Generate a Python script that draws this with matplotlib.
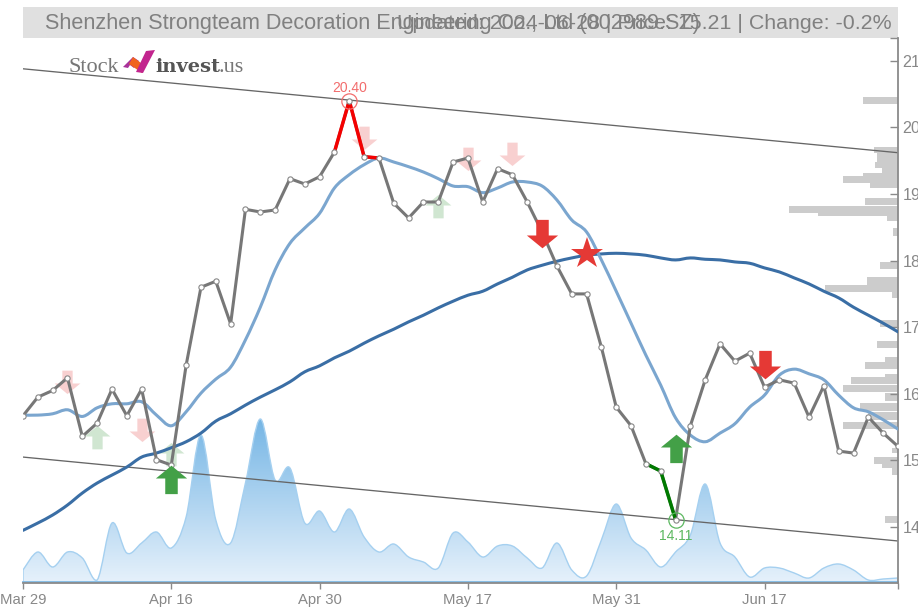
import numpy as np
import matplotlib
matplotlib.use("Agg")
import matplotlib.pyplot as plt
from matplotlib.path import Path
from matplotlib.patches import PathPatch, Rectangle, Polygon
from matplotlib.colors import LinearSegmentedColormap

plt.rcParams['font.family'] = ['Liberation Sans', 'DejaVu Sans']

W, H = 918, 610

close = [15.67,15.95,16.05,16.24,15.36,15.56,16.07,15.67,16.07,15.01,14.93,16.43,17.60,17.69,17.05,18.77,18.73,18.76,19.23,19.15,
         19.26,19.63,20.40,19.56,19.54,18.86,18.64,18.88,18.88,19.48,19.54,18.88,19.38,19.29,18.88,18.43,17.92,17.50,17.50,16.70,
         15.80,15.52,14.95,14.84,14.11,15.52,16.21,16.75,16.49,16.61,16.10,16.21,16.16,15.65,16.12,15.14,15.11,15.65,15.41,15.21]
ma_short = [15.68,15.68,15.70,15.76,15.66,15.79,15.85,15.85,15.88,15.68,15.52,15.73,16.01,16.22,16.40,16.81,17.30,17.86,18.26,18.49,
            18.71,19.09,19.29,19.44,19.54,19.48,19.41,19.33,19.23,19.12,19.11,19.02,19.09,19.18,19.18,19.12,18.91,18.61,18.43,18.01,
            17.54,17.06,16.58,16.13,15.64,15.38,15.28,15.41,15.55,15.80,15.98,16.28,16.37,16.30,16.21,15.98,15.79,15.73,15.61,15.47]
ma_long = [13.95,14.06,14.18,14.33,14.51,14.66,14.78,14.90,15.05,15.11,15.19,15.28,15.41,15.59,15.70,15.83,15.95,16.06,16.18,16.33,
           16.42,16.54,16.64,16.76,16.87,16.97,17.08,17.18,17.29,17.39,17.48,17.54,17.65,17.75,17.86,17.93,17.99,18.04,18.08,18.10,
           18.11,18.10,18.08,18.04,18.01,18.04,18.02,18.01,17.98,17.96,17.89,17.83,17.74,17.65,17.54,17.44,17.30,17.18,17.06,16.93]
volume = [13,31,16,31,25,3,60,30,40,51,35,66,148,63,40,100,164,103,115,60,
          72,51,74,46,31,39,26,21,15,50,41,26,37,37,25,15,40,13,7,43,
          79,45,33,16,31,48,99,40,26,6,15,15,10,5,15,19,13,3,4,5]

x_tick_idx = [0, 10, 20, 30, 40, 50]
x_tick_labels = ['Mar 29', 'Apr 16', 'Apr 30', 'May 17', 'May 31', 'Jun 17']
y_ticks = [14, 15, 16, 17, 18, 19, 20, 21]

upper_trend = [20.88, 19.62]
lower_trend = [15.05, 13.79]

hist_low = [20.35,19.62,19.48,19.39,19.32,19.27,19.17,19.09,18.83,18.71,18.67,18.59,18.37,17.87,17.63,17.53,17.44,17.00,16.69,16.48,16.37,16.25,16.15,16.03,15.89,15.74,15.61,15.47,15.11,14.95,14.89,14.78,14.06]
hist_high = [20.46,19.71,19.62,19.48,19.39,19.32,19.27,19.17,18.94,18.82,18.71,18.67,18.49,17.98,17.75,17.63,17.53,17.11,16.79,16.55,16.48,16.30,16.25,16.13,16.01,15.86,15.73,15.58,15.19,15.05,14.95,14.89,14.17]
hist_len = [35,24,21,23,16,35,55,28,33,109,80,11,5,18,31,73,6,18,21,13,33,13,47,55,13,38,30,55,6,24,16,6,13]

weak_sell_idx = [3, 8, 23, 30, 33]
weak_sell_y = [16.16, 15.44, 19.82, 19.51, 19.59]
weak_buy_idx = [5, 10, 28]
weak_buy_y = [15.37, 15.11, 18.83]
strong_sell_idx = [35, 50]
strong_sell_y = [18.38, 16.42]
strong_buy_idx = [10, 44]
strong_buy_y = [14.74, 15.20]
star_idx = [38]
star_y = [18.10]

high_idx, high_val = 22, 20.40
low_idx, low_val = 44, 14.11

title_left = 'Shenzhen Strongteam Decoration Engineering Co., Ltd (002989.SZ)'
title_right = 'Updated: 2024-06-28 | Price: 15.21 | Change: -0.2%'


def smooth_path(x, y, floor=None):
    """Cubic Bezier path running through every data point."""
    pts = np.column_stack([x, y]).astype(float)
    verts = [tuple(pts[0])]
    codes = [Path.MOVETO]
    for i in range(len(pts) - 1):
        p0 = pts[max(i - 1, 0)]
        p1, p2 = pts[i], pts[i + 1]
        p3 = pts[min(i + 2, len(pts) - 1)]
        c1 = p1 + (p2 - p0) / 6
        c2 = p2 - (p3 - p1) / 6
        if floor is not None:
            c1[1] = max(c1[1], floor)
            c2[1] = max(c2[1], floor)
        verts += [tuple(c1), tuple(c2), tuple(p2)]
        codes += [Path.CURVE4] * 3
    return verts, codes


fig = plt.figure(figsize=(W / 100, H / 100), dpi=100, facecolor='white')
AL, AR, AT, AB = 23, 898, 38, 583
ax = fig.add_axes([AL / W, 1 - AB / H, (AR - AL) / W, (AB - AT) / H])
ax.set_xlim(0, 59)
px_per_unit = 66.6
ax.set_ylim(14 - (AB - 527) / px_per_unit, 14 + (527 - AT) / px_per_unit)
ax_v = ax.twinx()
ax_v.set_ylim(0, AB - AT)
ax_v.axis('off')
ax.set_zorder(ax_v.get_zorder() + 1)
ax.patch.set_visible(False)

xs = np.arange(len(close), dtype=float)

# smooth volume area
v_verts, v_codes = smooth_path(xs, volume, floor=0)
verts = [(0, 0), (0, volume[0])] + v_verts[1:] + [(59, 0), (0, 0)]
codes = [Path.MOVETO, Path.LINETO] + v_codes[1:] + [Path.LINETO, Path.CLOSEPOLY]
vpath = Path(verts, codes)
cmap = LinearSegmentedColormap.from_list('v', ['#e6f1fb', '#76b6e5'])
im = ax_v.imshow(np.linspace(1, 0, 200).reshape(-1, 1), extent=(0, 59, 0, 164), aspect='auto',
                 cmap=cmap, zorder=1, origin='upper')
clip = PathPatch(vpath, transform=ax_v.transData, facecolor='none', edgecolor='none')
ax_v.add_patch(clip)
im.set_clip_path(clip)
ax_v.add_patch(PathPatch(vpath, facecolor='none', edgecolor='#a5d0f0', lw=1.0, zorder=2))
ax_v.plot([0, 59], [0.8, 0.8], color='#7fb9e4', lw=1.3, zorder=3, clip_on=False)
ax_v.set_xlim(0, 59)
ax_v.set_ylim(0, AB - AT)

# price profile
hl = np.array(hist_low)
hh = np.array(hist_high)
hw = np.array(hist_len) / ((AR - AL) / 59)
ax.barh((hl + hh) / 2, -hw, left=59, height=hh - hl, color='#cccccc', lw=0, zorder=1)

# trend lines
ax.plot([0, 59], upper_trend, color='#666666', lw=0.95, zorder=2)
ax.plot([0, 59], lower_trend, color='#666666', lw=0.95, zorder=2)

# arrows
down = np.array([(-.4, 1), (.4, 1), (.4, .0), (1, .0), (0, -.82), (-1, .0), (-.4, .0), (-.4, 1)])
up = down * np.array([1, -1])
mk_down = Path(down, closed=True)
mk_up = Path(up, closed=True)
ax.plot(weak_sell_idx, weak_sell_y, ls='none', marker=mk_down, ms=18.5, mfc='#f8d0d0', mew=0, zorder=3)
ax.plot(weak_buy_idx, weak_buy_y, ls='none', marker=mk_up, ms=18.5, mfc='#d0e6d1', mew=0, zorder=3)

# lines
for series, color, z in ((ma_long, '#3a6ea5', 4), (ma_short, '#7ba6cf', 5)):
    m_verts, m_codes = smooth_path(xs, series)
    ax.add_patch(PathPatch(Path(m_verts, m_codes), facecolor='none', edgecolor=color, lw=2.2, zorder=z,
                           capstyle='round'))
ax.plot(xs, close, color='#777777', lw=2.2, zorder=6)
ax.plot(xs[21:25], close[21:25], color='#f40000', lw=2.5, zorder=7)
ax.plot(xs[42:45], close[42:45], color='#007a00', lw=2.5, zorder=7)
ax.plot(xs, close, ls='none', marker='o', ms=3.8, mfc='white', mec='#888888', mew=0.8, zorder=8)

ax.plot(strong_sell_idx, strong_sell_y, ls='none', marker=mk_down, ms=22.5, mfc='#e53935', mew=0, zorder=9)
ax.plot(strong_buy_idx, strong_buy_y, ls='none', marker=mk_up, ms=22.5, mfc='#43a047', mew=0, zorder=9)
ax.plot(star_idx, star_y, ls='none', marker='*', ms=24, mfc='#e53935', mew=0, zorder=9)

ax.plot([high_idx], [high_val], ls='none', marker='o', ms=11, mfc='none', mec='#f26d6d', mew=0.9, zorder=9)
ax.plot([low_idx], [low_val], ls='none', marker='o', ms=11, mfc='none', mec='#5cb860', mew=0.9, zorder=9)
ax.annotate(f'{high_val:.2f}', (high_idx, high_val), xytext=(0, 4.2), textcoords='offset points',
            ha='center', va='bottom', fontsize=10, color='#f26d6d', zorder=10)
ax.annotate(f'{low_val:.2f}', (low_idx, low_val), xytext=(0, -6.5), textcoords='offset points',
            ha='center', va='top', fontsize=10, color='#5cb860', zorder=10)

# axes
for s in ('top', 'left'):
    ax.spines[s].set_visible(False)
for s in ('right', 'bottom'):
    ax.spines[s].set_color('#8a8a8a')
    ax.spines[s].set_linewidth(1.3)
ax.yaxis.tick_right()
ax.set_yticks(y_ticks)
ax.set_yticklabels([str(t) for t in y_ticks])
ax.set_yticks([ax.get_ylim()[1]], minor=True)
ax.tick_params(axis='y', which='both', direction='in', length=5.8, width=1.0, color='#8a8a8a',
               labelcolor='#888888', labelsize=11.6, pad=3.2)
ax.set_xticks(x_tick_idx)
ax.set_xticklabels(x_tick_labels)
ax.set_xticks([59], minor=True)
ax.tick_params(axis='x', which='both', direction='out', length=4.6, width=1.0, color='#8a8a8a',
               labelcolor='#888888', labelsize=10.7, pad=2.5)

# title bar
fx = lambda p: p / W
fy = lambda p: 1 - p / H
fig.patches.append(Rectangle((fx(23), fy(37.5)), 875 / W, 30.5 / H, transform=fig.transFigure,
                             facecolor='#e0e0e0', edgecolor='none', zorder=-1))
fig.text(fx(45), fy(23.5), title_left, fontsize=15.6, color='#808080', ha='left', va='center')
fig.text(fx(892), fy(23.5), title_right, fontsize=15.4, color='#808080', ha='right', va='center')

# logo
fig.text(fx(68), fy(72), 'Stock', fontsize=16, color='#777777', family='Liberation Serif', ha='left', va='baseline')
fig.text(fx(155), fy(72), 'invest', fontsize=14, color='#555555', family='DejaVu Serif', weight='bold', ha='left', va='baseline')
fig.text(fx(218), fy(72), '.us', fontsize=16, color='#777777', family='Liberation Serif', ha='left', va='baseline')
logo = [([(123, 67), (133, 57), (139, 61), (134, 68), (130, 65), (128, 68)], '#a9329b'),
        ([(133, 57), (145, 66), (142, 73), (129, 64)], '#f0641e'),
        ([(146, 51), (155, 50), (143, 73), (136, 72)], '#c2258e')]
for p, c in logo:
    fig.patches.append(Polygon([(fx(a), fy(b)) for a, b in p], transform=fig.transFigure, facecolor=c, edgecolor='none', zorder=5))

fig.savefig('out.png', dpi=100)
